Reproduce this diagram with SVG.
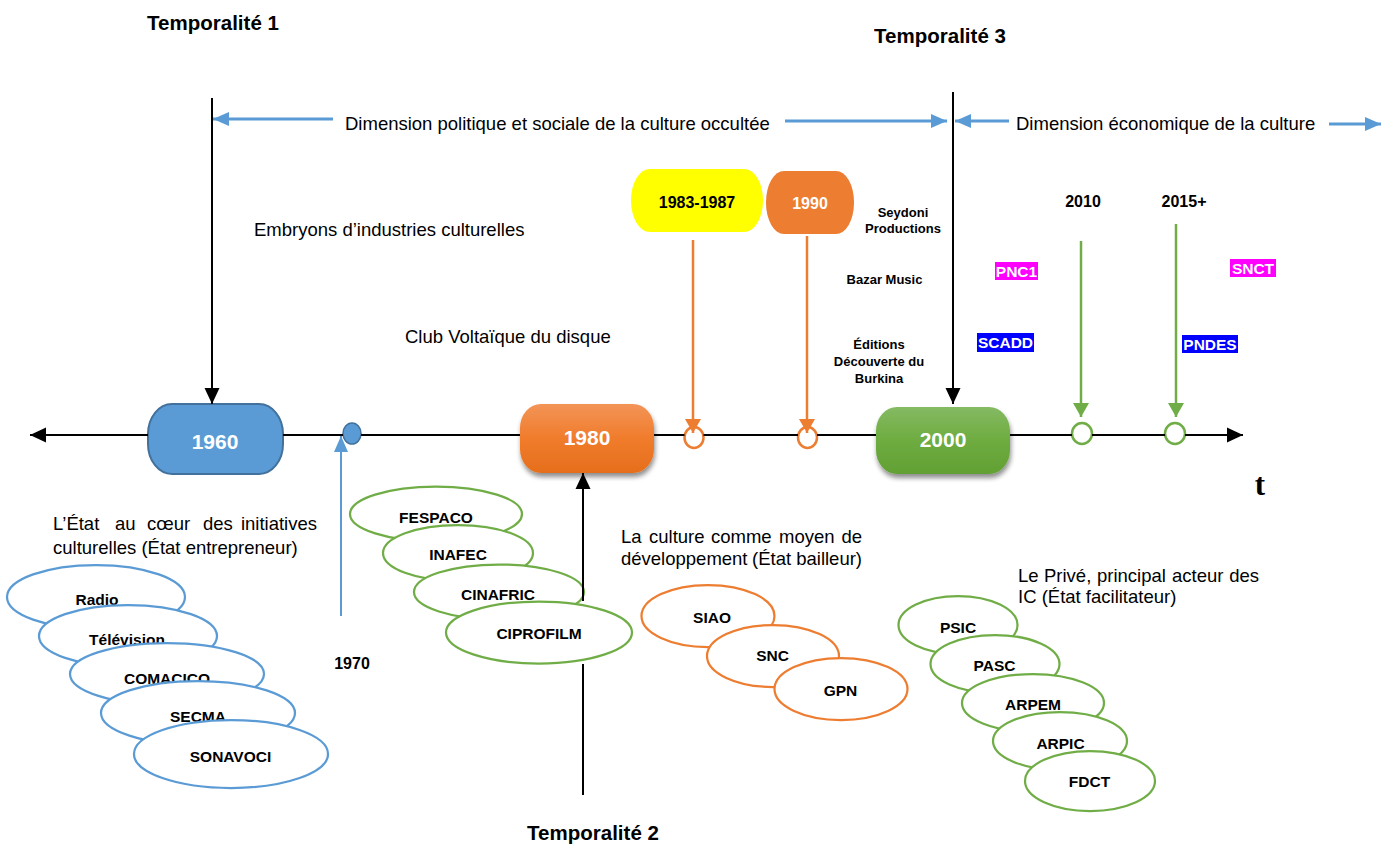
<svg xmlns="http://www.w3.org/2000/svg" width="1391" height="845" viewBox="0 0 1391 845">
<defs>
<style>
.t{font-family:"Liberation Sans",Arial,Helvetica,sans-serif;fill:#000}
.reg{font-size:18.5px}
.big{font-size:20.5px;font-weight:bold;text-anchor:middle}
.lab{font-size:15.5px;font-weight:bold;text-anchor:middle}
.sm{font-size:13px;font-weight:bold;text-anchor:middle}
.yr{font-size:16px;font-weight:bold;text-anchor:middle}
.nd{font-size:21px;font-weight:bold;fill:#fff;text-anchor:middle}
.hl{font-size:15.5px;font-weight:bold;fill:#fff;text-anchor:middle}
.eb{fill:#fff;stroke:#5B9BD5;stroke-width:2.25}
.eg{fill:#fff;stroke:#70AD47;stroke-width:2.25}
.eo{fill:#fff;stroke:#ED7D31;stroke-width:2.25}
.k{fill:none;stroke:#000;stroke-width:2}
.bl{fill:none;stroke:#5B9BD5;stroke-width:3}
.bt{fill:none;stroke:#5B9BD5;stroke-width:2}
.or{fill:none;stroke:#ED7D31;stroke-width:2.5}
.gr{fill:none;stroke:#70AD47;stroke-width:2.5}
</style>
<marker id="ak" markerUnits="userSpaceOnUse" markerWidth="16" markerHeight="16" viewBox="0 0 16 16" refX="16" refY="8" orient="auto-start-reverse"><path d="M0,0.5 L16,8 L0,15.5 Z" fill="#000"/></marker>
<marker id="ab" markerUnits="userSpaceOnUse" markerWidth="16" markerHeight="14" viewBox="0 0 16 14" refX="16" refY="7" orient="auto"><path d="M0,0 L16,7 L0,14 Z" fill="#5B9BD5"/></marker>
<marker id="ao" markerUnits="userSpaceOnUse" markerWidth="14" markerHeight="16" viewBox="0 0 14 16" refX="14" refY="8" orient="auto"><path d="M0,0 L14,8 L0,16 Z" fill="#ED7D31"/></marker>
<marker id="ag" markerUnits="userSpaceOnUse" markerWidth="14" markerHeight="16" viewBox="0 0 14 16" refX="14" refY="8" orient="auto"><path d="M0,0 L14,8 L0,16 Z" fill="#70AD47"/></marker>
<linearGradient id="gO" x1="0" y1="0" x2="0" y2="1"><stop offset="0" stop-color="#F39457"/><stop offset="0.5" stop-color="#F07C2C"/><stop offset="1" stop-color="#E56E1C"/></linearGradient>
<linearGradient id="gG" x1="0" y1="0" x2="0" y2="1"><stop offset="0" stop-color="#85BA62"/><stop offset="0.5" stop-color="#6EAC40"/><stop offset="1" stop-color="#62A034"/></linearGradient>
<filter id="sh" x="-20%" y="-20%" width="150%" height="170%"><feGaussianBlur in="SourceAlpha" stdDeviation="2.5"/><feOffset dx="1" dy="4"/><feComponentTransfer><feFuncA type="linear" slope="0.45"/></feComponentTransfer><feMerge><feMergeNode/><feMergeNode in="SourceGraphic"/></feMerge></filter>
</defs>
<rect width="1391" height="845" fill="#fff"/>

<g id="titles" class="t">
<text class="big" x="213" y="30">Temporalité 1</text>
<text class="big" x="940" y="43">Temporalité 3</text>
<text class="big" x="593" y="840">Temporalité 2</text>
<text class="reg" x="345" y="130">Dimension politique et sociale de la culture occultée</text>
<text class="reg" x="1016" y="130">Dimension économique de la culture</text>
<text class="reg" x="254" y="236">Embryons d’industries culturelles</text>
<text class="reg" x="405" y="343">Club Voltaïque du disque</text>
<text class="reg" y="530"><tspan x="53">L’État</tspan><tspan x="115">au</tspan><tspan x="147">cœur</tspan><tspan x="203">des</tspan><tspan x="317" text-anchor="end">initiatives</tspan></text>
<text class="reg" x="53" y="554">culturelles (État entrepreneur)</text>
<text class="reg" y="543"><tspan x="621">La</tspan><tspan x="649">culture</tspan><tspan x="711">comme</tspan><tspan x="779">moyen</tspan><tspan x="862" text-anchor="end">de</tspan></text>
<text class="reg" y="565"><tspan x="621">développement</tspan><tspan x="752">(État</tspan><tspan x="862" text-anchor="end">bailleur)</tspan></text>
<text class="reg" y="582"><tspan x="1018">Le</tspan><tspan x="1044">Privé,</tspan><tspan x="1097">principal</tspan><tspan x="1172">acteur</tspan><tspan x="1259" text-anchor="end">des</tspan></text>
<text class="reg" x="1018" y="603">IC (État facilitateur)</text>
<text x="1260" y="495" text-anchor="middle" style="font-family:'Liberation Serif','Times New Roman',serif;font-weight:bold;font-size:31px">t</text>
</g>

<g id="node-1960"><rect x="148" y="404" width="135" height="70" rx="24" ry="30" fill="#5B9BD5" stroke="#41719C" stroke-width="2"/><text class="t nd" x="215" y="448.5">1960</text></g>
<g id="node-1970"><ellipse cx="352" cy="433.5" rx="9" ry="10.5" fill="#5B9BD5" stroke="#41719C" stroke-width="1.5"/><text class="t yr" x="352" y="668.5">1970</text></g>
<g id="node-1980"><rect x="520" y="404" width="134" height="69" rx="21" ry="24" fill="url(#gO)" filter="url(#sh)"/><text class="t nd" x="587" y="444.5">1980</text></g>
<g id="node-1983"><rect x="631" y="169" width="132" height="63" rx="19" ry="31" fill="#FFFF00"/><text class="t yr" x="697" y="207.5">1983-1987</text><ellipse cx="694" cy="437.5" rx="9.5" ry="10.5" fill="#fff" stroke="#ED7D31" stroke-width="2.5"/></g>
<g id="node-1990"><rect x="766" y="171" width="88" height="63" rx="18" ry="31" fill="#ED7D31"/><text class="t yr" x="810" y="208.5" fill="#fff" style="fill:#fff">1990</text><ellipse cx="807.5" cy="437.5" rx="9.5" ry="10.5" fill="#fff" stroke="#ED7D31" stroke-width="2.5"/></g>
<g id="node-2000"><rect x="876" y="407" width="134" height="67" rx="21" ry="24" fill="url(#gG)" filter="url(#sh)"/><text class="t nd" x="943" y="446.5">2000</text></g>
<g id="node-2010"><text class="t yr" x="1083" y="206.5">2010</text><ellipse cx="1082" cy="433.5" rx="10" ry="10.5" fill="#fff" stroke="#70AD47" stroke-width="2.5"/></g>
<g id="node-2015"><text class="t yr" x="1184" y="206.5">2015+</text><ellipse cx="1175" cy="433.5" rx="10" ry="10.5" fill="#fff" stroke="#70AD47" stroke-width="2.5"/></g>

<g id="labels-private" class="t">
<text class="sm" x="903" y="216.5">Seydoni</text>
<text class="sm" x="903" y="232.5">Productions</text>
<text class="sm" x="884.5" y="283.5">Bazar Music</text>
<text class="sm" x="879" y="349">Éditions</text>
<text class="sm" x="879" y="365.5">Découverte du</text>
<text class="sm" x="879" y="382.5">Burkina</text>
</g>
<g id="tag-pnc1"><rect x="995" y="262" width="43" height="18" fill="#FF00FF"/><text class="t hl" x="1016.5" y="276.5" style="fill:#fff">PNC1</text></g>
<g id="tag-snct"><rect x="1230" y="259" width="46" height="18" fill="#FF00FF"/><text class="t hl" x="1253" y="273.5" style="fill:#fff">SNCT</text></g>
<g id="tag-scadd"><rect x="977" y="333" width="57" height="19" fill="#0000FF"/><text class="t hl" x="1005.5" y="348" style="fill:#fff">SCADD</text></g>
<g id="tag-pndes"><rect x="1182" y="335" width="56" height="18" fill="#0000FF"/><text class="t hl" x="1210" y="350" style="fill:#fff">PNDES</text></g>

<g id="group-etat-entrepreneur" class="t">
<g id="e-radio"><ellipse class="eb" cx="96" cy="597" rx="89" ry="32"/><text class="lab" x="97" y="605">Radio</text></g>
<g id="e-television"><ellipse class="eb" cx="128" cy="636" rx="89" ry="31"/><text class="lab" x="127" y="645">Télévision</text></g>
<g id="e-comacico"><ellipse class="eb" cx="167" cy="674" rx="97" ry="31"/><text class="lab" x="167" y="683.5">COMACICO</text></g>
<g id="e-secma"><ellipse class="eb" cx="198" cy="713" rx="97" ry="32"/><text class="lab" x="198" y="722">SECMA</text></g>
<g id="e-sonavoci"><ellipse class="eb" cx="231" cy="754" rx="97" ry="34"/><text class="lab" x="230.5" y="761.5">SONAVOCI</text></g>
</g>
<g id="group-1980s" class="t">
<g id="e-fespaco"><ellipse class="eg" cx="436" cy="514" rx="86" ry="27.5"/><text class="lab" x="436" y="523">FESPACO</text></g>
<g id="e-inafec"><ellipse class="eg" cx="458" cy="553" rx="75" ry="28"/><text class="lab" x="458" y="560">INAFEC</text></g>
<g id="e-cinafric"><ellipse class="eg" cx="499" cy="592" rx="85" ry="27.5"/><text class="lab" x="498" y="600">CINAFRIC</text></g>
<g id="e-ciprofilm"><ellipse class="eg" cx="539" cy="632.5" rx="93" ry="31"/><text class="lab" x="539" y="639">CIPROFILM</text></g>
</g>
<g id="group-etat-bailleur" class="t">
<g id="e-siao"><ellipse class="eo" cx="708" cy="616" rx="66.5" ry="31"/><text class="lab" x="712" y="623">SIAO</text></g>
<g id="e-snc"><ellipse class="eo" cx="773" cy="656" rx="66" ry="31"/><text class="lab" x="772.5" y="661">SNC</text></g>
<g id="e-gpn"><ellipse class="eo" cx="841" cy="689" rx="66.5" ry="31"/><text class="lab" x="840.5" y="696">GPN</text></g>
</g>
<g id="group-etat-facilitateur" class="t">
<g id="e-psic"><ellipse class="eg" cx="958" cy="625" rx="59.5" ry="29"/><text class="lab" x="958" y="633">PSIC</text></g>
<g id="e-pasc"><ellipse class="eg" cx="995" cy="664" rx="64.5" ry="29"/><text class="lab" x="994.5" y="671">PASC</text></g>
<g id="e-arpem"><ellipse class="eg" cx="1033" cy="703" rx="71" ry="29"/><text class="lab" x="1033" y="710">ARPEM</text></g>
<g id="e-arpic"><ellipse class="eg" cx="1060" cy="741" rx="67" ry="29"/><text class="lab" x="1060.5" y="749">ARPIC</text></g>
<g id="e-fdct"><ellipse class="eg" cx="1090" cy="781" rx="65" ry="30"/><text class="lab" x="1089.5" y="787">FDCT</text></g>
</g>

<g id="connectors">
<path class="k" d="M30 435 L148 435 M283 435 L343 435 M361 435 L520 435 M654 435 L684.5 435 M703.5 435 L798 435 M817 435 L876 435 M1010 435 L1072 435 M1092 435 L1165 435 M1185 435 L1243 435" marker-start="url(#ak)" marker-end="url(#ak)"/>
<path class="k" d="M212 98 L212 404" marker-end="url(#ak)"/>
<path class="k" d="M953 92 L953 404" marker-end="url(#ak)"/>
<path class="k" d="M583 795 L583 664 M583 601 L583 473" marker-end="url(#ak)"/>
<path class="bl" d="M333 119 L213 119" marker-end="url(#ab)"/>
<path class="bl" d="M785 121 L947 121" marker-end="url(#ab)"/>
<path class="bl" d="M1009 121 L955 121" marker-end="url(#ab)"/>
<path class="bl" d="M1329 124 L1381 124" marker-end="url(#ab)"/>
<path class="bt" d="M341 616 L341 436" marker-end="url(#ab)"/>
<path class="or" d="M693 240 L693 433" marker-end="url(#ao)"/>
<path class="or" d="M807 236 L807 433" marker-end="url(#ao)"/>
<path class="gr" d="M1081 241 L1081 417" marker-end="url(#ag)"/>
<path class="gr" d="M1176 224 L1176 417" marker-end="url(#ag)"/>
</g>
</svg>
